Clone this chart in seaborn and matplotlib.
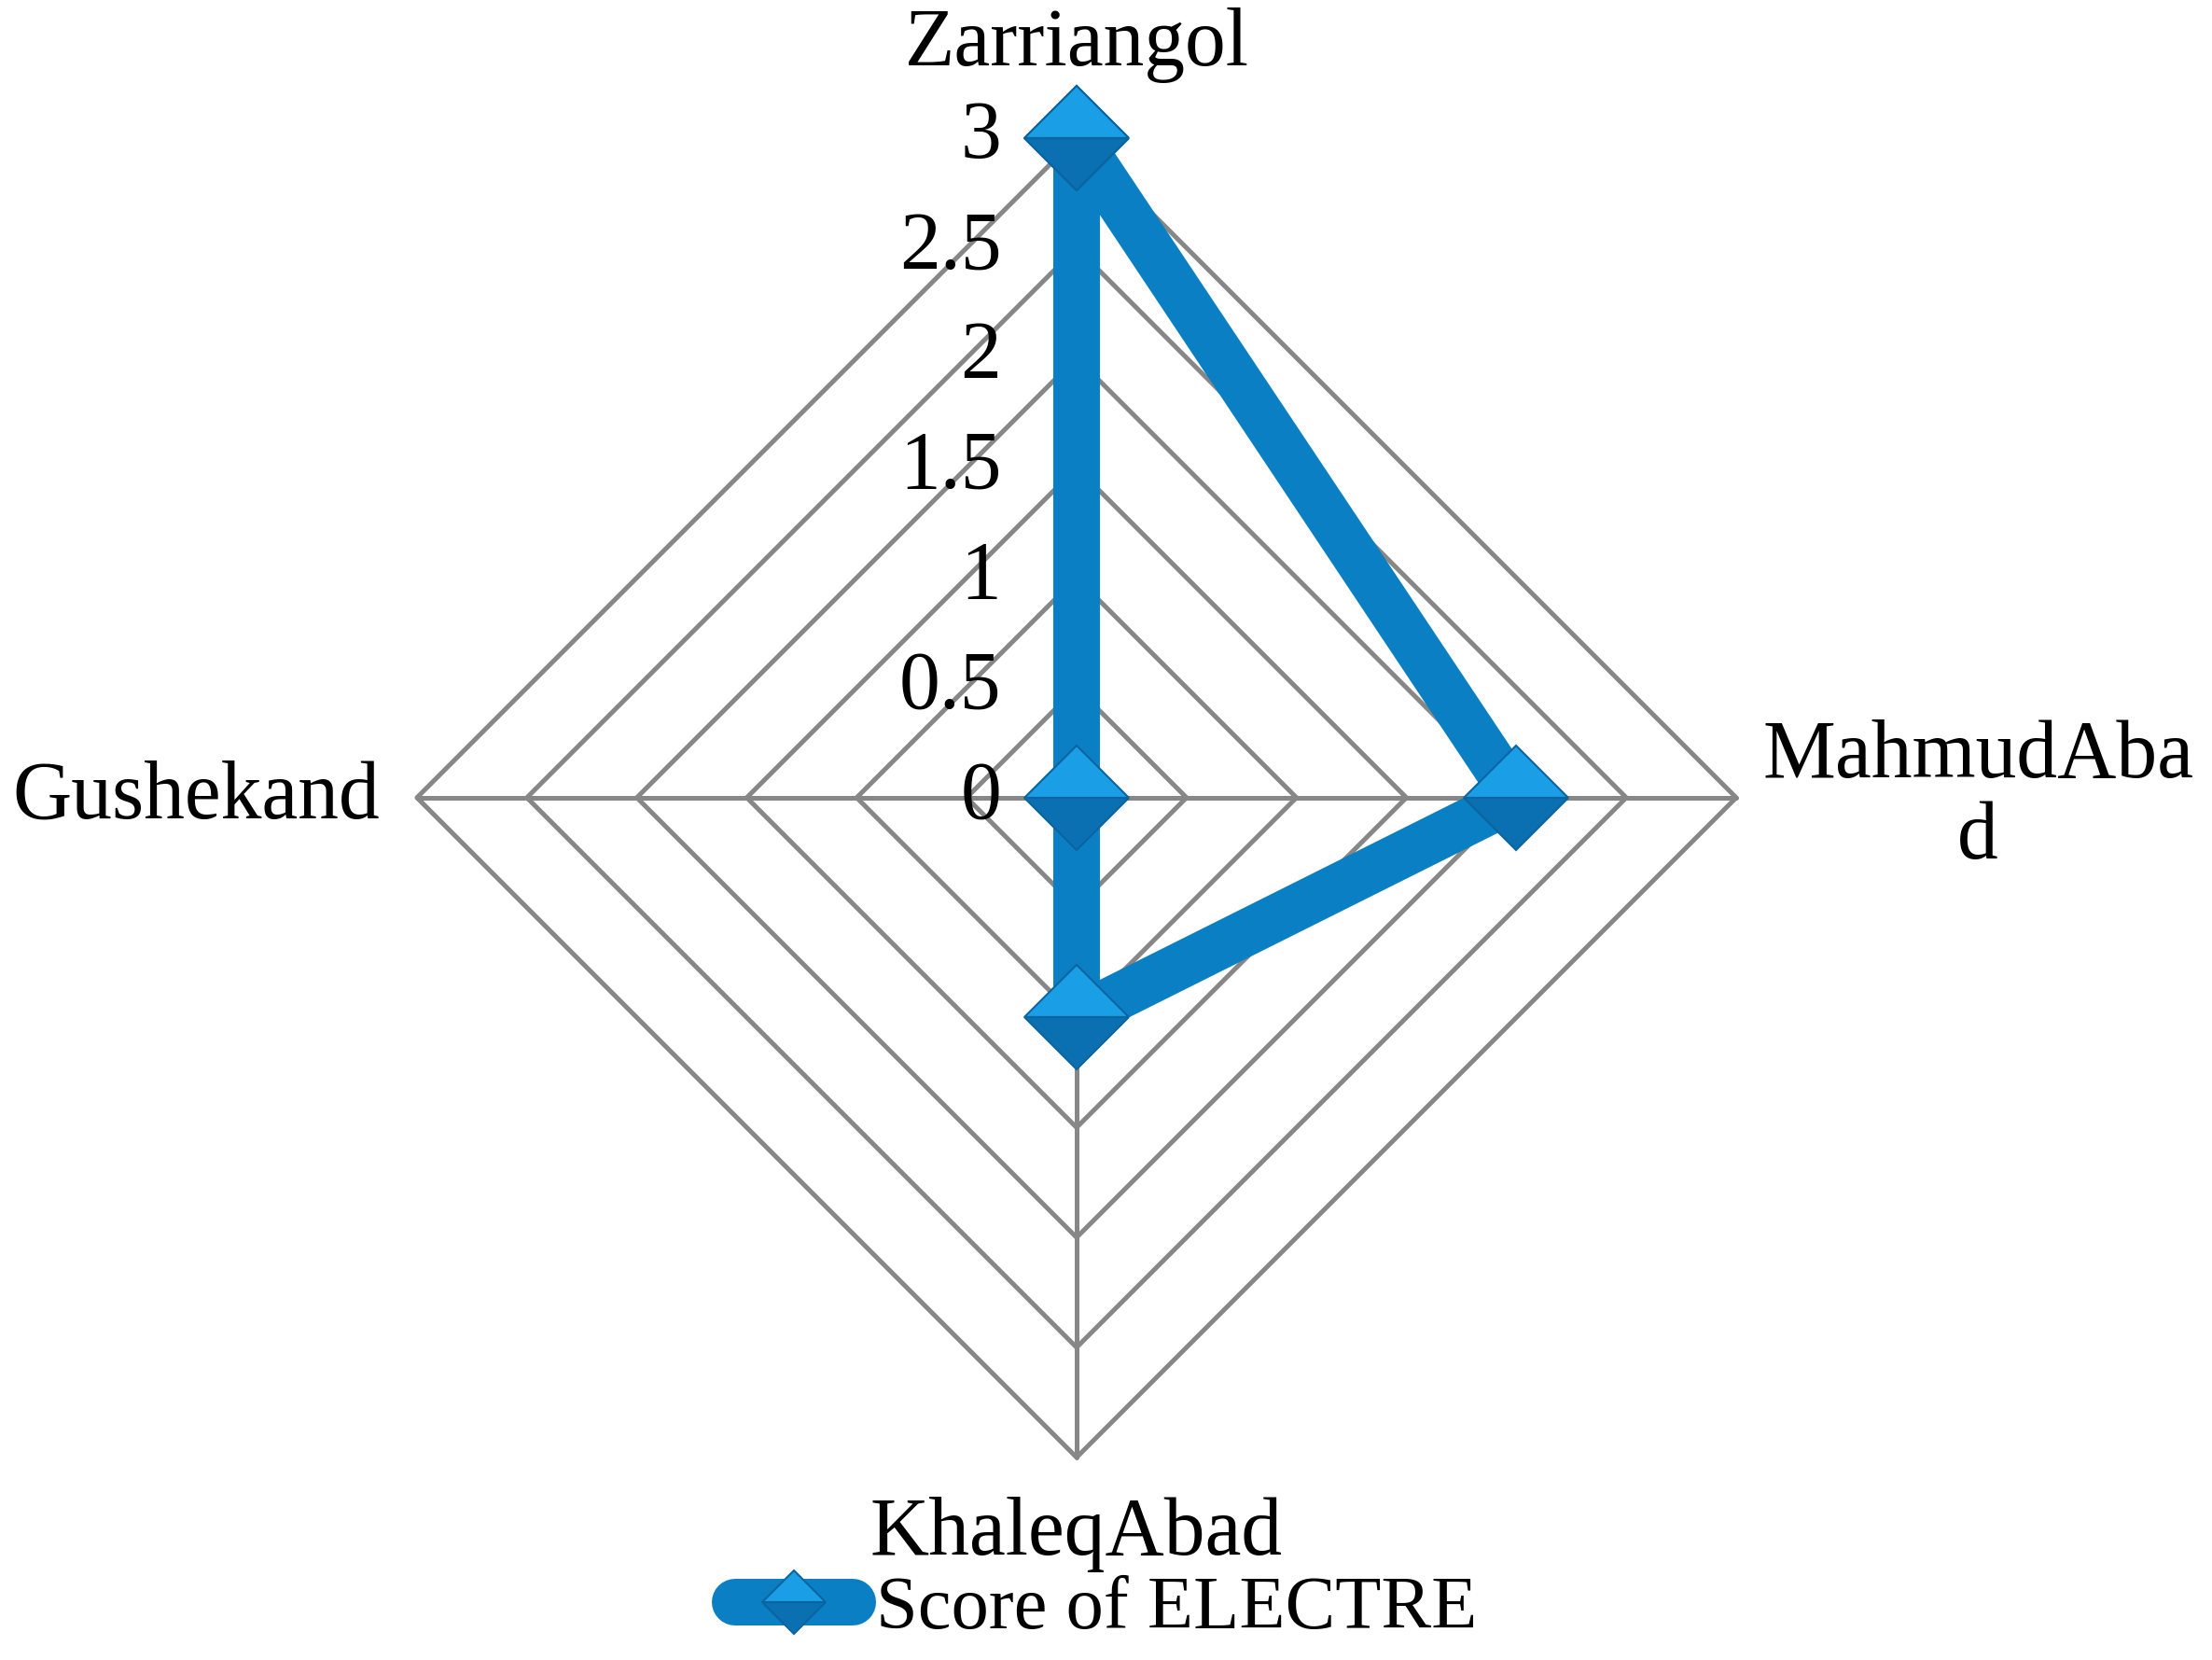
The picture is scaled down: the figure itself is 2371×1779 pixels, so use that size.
import numpy as np
import pandas as pd
import matplotlib
matplotlib.use('Agg')
import matplotlib.pyplot as plt
import seaborn as sns

categories = ['Zarriangol', 'MahmudAbad', 'KhaleqAbad', 'Gushekand']
cat_labels = ['Zarriangol', 'MahmudAba\nd', 'KhaleqAbad', 'Gushekand']
scores = [3, 2, 1, 0]
levels = [0, 0.5, 1, 1.5, 2, 2.5, 3]
level_labels = ['0', '0.5', '1', '1.5', '2', '2.5', '3']
series_name = 'Score of ELECTRE'

sns.set_style('white')
plt.rcParams['font.family'] = ['Liberation Serif', 'DejaVu Serif']
plt.rcParams['text.color'] = 'black'

line_color = '#0A7FC3'
grid_color = '#878787'
fs = 63

n = len(categories)
theta = np.linspace(0, 2 * np.pi, n, endpoint=False)

# close the polygon by repeating the first point at 2*pi
df = pd.DataFrame({
    'theta': np.append(theta, 2 * np.pi),
    'score': scores + scores[:1],
})

fig = plt.figure(figsize=(23.71, 17.79), dpi=100)
ax = fig.add_axes([0.1885, 0.122, 0.5964, 0.795], projection='polar')
ax.set_theta_zero_location('N')
ax.set_theta_direction(-1)
ax.set_ylim(0, 3)
ax.grid(False)
ax.spines['polar'].set_visible(False)
ax.set_xticks([])
ax.set_yticks([])

# diamond gridlines and spokes
ring_theta = np.append(theta, 2 * np.pi)
for lv in levels[1:]:
    ax.plot(ring_theta, [lv] * (n + 1), color=grid_color, lw=3.6, zorder=1,
            clip_on=False)
for t in theta:
    ax.plot([t, t], [0, levels[-1]], color=grid_color, lw=3.6, zorder=1,
            clip_on=False)

sns.lineplot(data=df, x='theta', y='score', sort=False, estimator=None, ax=ax,
             color=line_color, lw=36, marker='D', markersize=57,
             fillstyle='top', markerfacecolor='#1A9FE6',
             markerfacecoloralt='#0A70B2', markeredgecolor='#0A64A0',
             markeredgewidth=1.5, label=series_name, zorder=3,
             solid_capstyle='round', clip_on=False)

# radial tick labels
for lv, lab in zip(levels, level_labels):
    ax.annotate(lab, xy=(0, lv), xytext=(-58, 0), textcoords='offset points',
                ha='right', va='center', fontsize=fs, zorder=4)

# category labels
ax.text(theta[0], 3.42, cat_labels[0], ha='center', va='center', fontsize=fs)
ax.text(theta[1], 4.1, cat_labels[1], ha='center', va='center', fontsize=fs,
        multialignment='center', linespacing=1.1)
ax.text(theta[2], 3.35, cat_labels[2], ha='center', va='center', fontsize=fs)
ax.text(theta[3], 3.17, cat_labels[3], ha='right', va='center', fontsize=fs)

ax.legend(loc='center', bbox_to_anchor=(0.5, 0.03), bbox_transform=fig.transFigure,
          frameon=False, fontsize=58, handlelength=1.57, handletextpad=0.3,
          markerscale=0.6, borderpad=0)

fig.savefig('out.png', dpi=100, facecolor='white')
